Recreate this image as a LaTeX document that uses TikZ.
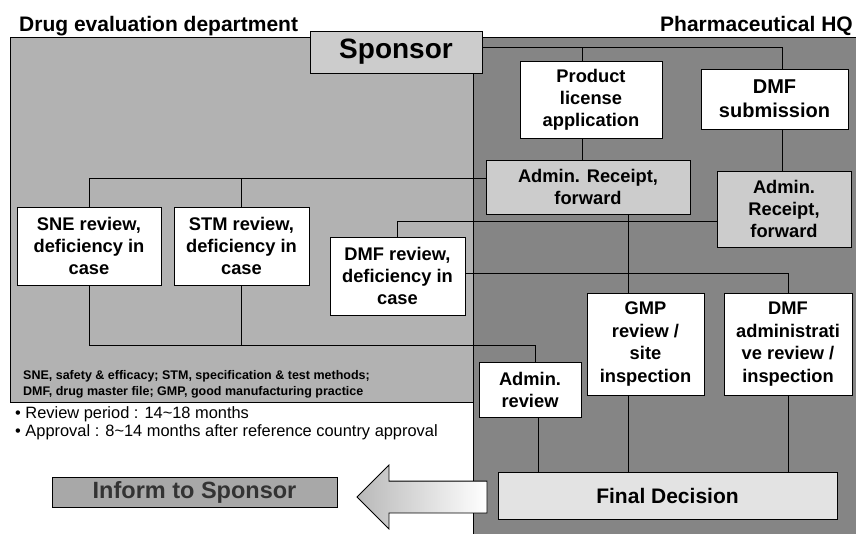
\documentclass[tikz,border=0pt]{standalone}
\usepackage{fontspec}
\setmainfont{Liberation Sans}
\usetikzlibrary{shapes,arrows,positioning,calc}

\definecolor{leftpanel}{gray}{0.70}
\definecolor{rightpanel}{gray}{0.52}
\definecolor{lightbox}{gray}{0.80}
\definecolor{finalfill}{gray}{0.89}
\definecolor{informfill}{gray}{0.66}

\begin{document}
\begin{tikzpicture}[x=1pt, y=-1pt,
  box/.style={draw, rectangle, fill=white, line width=0.8pt, align=center, inner sep=0pt, font=\bfseries\fontsize{18.3}{22}\selectfont},
  greybox/.style={box, fill=lightbox},
  title/.style={inner sep=0pt, font=\bfseries\fontsize{21}{24}\selectfont},
  note/.style={inner sep=0pt, anchor=base west},
  link/.style={draw, line width=0.9pt}]

\useasboundingbox (0,0) rectangle (856,534);

% 面板
\draw[fill=leftpanel, line width=0.8pt] (10,37) rectangle (473,402);
\draw[fill=rightpanel, line width=0.8pt] (473,37) rectangle (860,540);
\node[title, anchor=base west] (drugdept) at (19,32) {Drug evaluation department};
\node[title, anchor=base east] (hq) at (853,32) {Pharmaceutical HQ};

% 申请
\node[greybox, minimum width=172pt, minimum height=42pt, font=\bfseries\fontsize{28}{32}\selectfont] (sponsor) at (396,52) {Sponsor};
\node[box, minimum width=142pt, minimum height=77pt] (pla) at (591,99.5) {Product\\license\\application};
\node[box, minimum width=147pt, minimum height=60pt, font=\bfseries\fontsize{20}{24}\selectfont] (dmfsub) at (774.5,99) {DMF\\submission};

% 受理
\node[greybox, minimum width=204pt, minimum height=54pt] (adminrc) at (588,187) {Admin. Receipt,\\forward};
\node[greybox, minimum width=134pt, minimum height=76pt] (adminrd) at (784,209) {Admin.\\Receipt,\\forward};

% 审评
\node[box, minimum width=144pt, minimum height=78pt] (sne) at (89,246) {SNE review,\\deficiency in\\case};
\node[box, minimum width=135pt, minimum height=78pt] (stm) at (241.5,246) {STM review,\\deficiency in\\case};
\node[box, minimum width=135pt, minimum height=78pt] (dmfrev) at (397.5,276) {DMF review,\\deficiency in\\case};
\node[box, minimum width=117pt, minimum height=102pt, font=\bfseries\fontsize{18.3}{22.5}\selectfont] (gmp) at (645.5,344) {GMP\\review /\\site\\inspection};
\node[box, minimum width=128pt, minimum height=102pt, font=\bfseries\fontsize{18.3}{22.5}\selectfont] (dmfadm) at (788,344) {DMF\\administrati\\ve review /\\inspection};
\node[box, minimum width=102pt, minimum height=55pt] (adminrev) at (530,389.5) {Admin.\\review};

% 决定
\node[box, fill=finalfill, minimum width=339pt, minimum height=47pt, font=\bfseries\fontsize{21}{24}\selectfont] (final) at (667.5,495.5) {Final Decision};
\node[box, fill=informfill, text=black!80, minimum width=285pt, minimum height=30pt, font=\bfseries\fontsize{23.5}{26}\selectfont] (inform) at (194.5,492) {Inform to Sponsor};
\node[single arrow, shape border rotate=180, draw, line width=0.8pt, left color=gray!55, right color=white, minimum height=130pt, inner xsep=0pt, inner ysep=15.5pt, single arrow head extend=16pt] (back) at (430,497) {};

% 说明
\node[note, font=\bfseries\fontsize{12.5}{16}\selectfont] (abbr1) at (23,379) {SNE, safety \& efficacy; STM, specification \& test methods;};
\node[note, font=\bfseries\fontsize{12.5}{16}\selectfont] (abbr2) at (23,395) {DMF, drug master file; GMP, good manufacturing practice};
\node[note, font=\fontsize{16.4}{18}\selectfont] (period) at (15,418) {\textbullet\ Review period : 14\textasciitilde 18 months};
\node[note, font=\fontsize{16.4}{18}\selectfont] (approval) at (15,436) {\textbullet\ Approval : 8\textasciitilde 14 months after reference country approval};

% 连线
\draw[link] ([yshift=5pt]sponsor.east) -| ([xshift=-9pt]pla.north);
\draw[link] ([yshift=5pt]sponsor.east) -| ([xshift=8pt]dmfsub.north);
\draw[link] ([xshift=-9pt]pla.south) -- ([xshift=-9pt]pla.south |- adminrc.north);
\draw[link] ([xshift=8pt]dmfsub.south) -- ([xshift=8pt]dmfsub.south |- adminrd.north);
\draw[link] ([yshift=9pt]adminrc.west) -| (sne.north);
\draw[link] ([yshift=9pt]adminrc.west) -| (stm.north);
\draw[link] ([xshift=40pt]adminrc.south) -- ([xshift=40pt]adminrc.south |- gmp.north);
\draw[link] ([yshift=-12pt]adminrd.west) -| (dmfrev.north);
\draw[link] ([yshift=3pt]dmfrev.east) -| (dmfadm.north);
\coordinate (revbus) at ([xshift=5pt,yshift=16pt]adminrev.north);
\draw[link] (sne.south) |- (revbus) -- (revbus |- adminrev.north);
\draw[link] (stm.south) -- (stm.south |- revbus);
\draw[link] ([xshift=8pt]adminrev.south) -- ([xshift=8pt]adminrev.south |- final.north);
\draw[link] ([xshift=-17pt]gmp.south) -- ([xshift=-17pt]gmp.south |- final.north);
\draw[link] (dmfadm.south) -- (dmfadm.south |- final.north);
\end{tikzpicture}
\end{document}
